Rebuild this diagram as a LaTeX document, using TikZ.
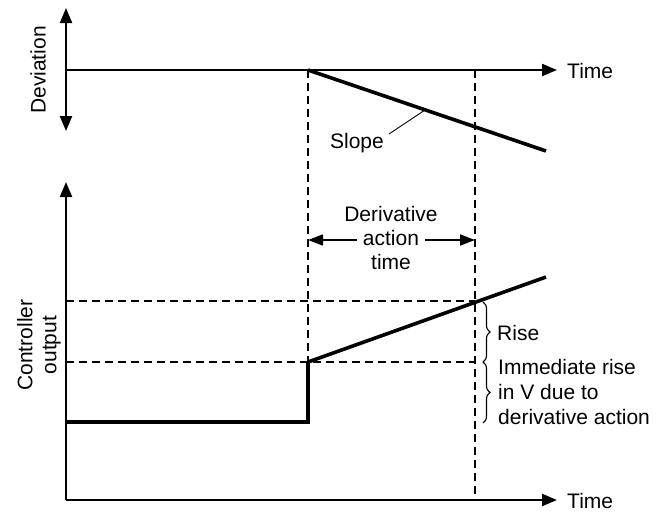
\documentclass[tikz,border=0pt]{standalone}
\usepackage{fontspec}
\setmainfont{Liberation Sans}
\usetikzlibrary{arrows.meta,decorations.pathreplacing}
\begin{document}
\begin{tikzpicture}[x=1pt,y=-1pt,
  axis/.style={line width=2.2pt,-{Triangle[length=15pt,width=12pt]}},
  biaxis/.style={line width=2.2pt,{Triangle[length=15pt,width=12pt]}-{Triangle[length=15pt,width=12pt]}},
  curve/.style={line width=3.6pt},
  guide/.style={line width=1.3pt,dash pattern=on 8pt off 5pt},
  lbl/.style={font=\fontsize{21}{24}\selectfont,inner sep=1pt},
  brace/.style={line width=1.1pt,decorate,decoration={brace,amplitude=7pt}},
  dimarrow/.style={line width=1.7pt,-{Triangle[length=15pt,width=11pt]}}]
\useasboundingbox (0,0) rectangle (657,515);
% coordinates
\coordinate (dorg) at (66,70);
\coordinate (dtop) at (66,8);
\coordinate (dbot) at (66,131);
\coordinate (dend) at (557,70);
\coordinate (t0) at (308,70);
\coordinate (s1) at (546,151);
\coordinate (corg) at (66,500);
\coordinate (ctop) at (66,182);
\coordinate (cend) at (557,500);
\coordinate (lowA) at (66,422);
\coordinate (lowB) at (308,422);
\coordinate (stepT) at (308,362);
\coordinate (rampE) at (546,277);
\coordinate (hA) at (66,301);
\coordinate (hB) at (475,301);
\coordinate (iA) at (66,362);
\coordinate (iB) at (475,362);
\coordinate (t1top) at (475,70);
\coordinate (t1bot) at (475,500);
% top plot
\draw[biaxis] (dbot) -- (dtop);
\draw[axis] (dorg) -- (dend);
\node[lbl,anchor=west] (time1) at (566,71) {Time};
\node[lbl,rotate=90] (dev) at (38,70) {Deviation};
\draw[curve] (t0) -- (s1);
\node[lbl] (slope) at (357,143) {Slope};
\coordinate (sl1) at (389,134);
\coordinate (sl2) at (425,110);
\draw[line width=0.9pt] (sl1) -- (sl2);
% dashed guides
\draw[guide] (t0) -- (stepT);
\draw[guide] (t1top) -- (t1bot);
\draw[guide] (hA) -- (hB);
\draw[guide] (iA) -- (iB);
% bottom plot
\draw[axis] (corg) -- (ctop);
\draw[axis] (corg) -- (cend);
\node[lbl,anchor=west] (time2) at (566,501) {Time};
\node[lbl,rotate=90,align=center] (cout) at (39,345) {Controller\\output};
\draw[curve,line join=miter] (lowA) -- (lowB) -- (stepT);
\draw[curve] (stepT) -- (rampE);
% derivative action time
\node[lbl,align=center,font=\fontsize{21}{24}\selectfont] (dat) at (391,238) {Derivative\\action\\time};
\coordinate (datL) at (308,240);
\coordinate (datR) at (475,240);
\draw[dimarrow] (357,240) -- (datL);
\draw[dimarrow] (425,240) -- (datR);
% braces
\coordinate (b1) at (483,302);
\coordinate (b2) at (483,362);
\coordinate (b3) at (483,423);
\draw[brace] (b1) -- (b2);
\draw[brace] (b2) -- (b3);
\node[lbl,anchor=west] (rise) at (496,333) {Rise};
\node[lbl,anchor=west,align=left,font=\fontsize{21}{25}\selectfont] (imm) at (497,392) {Immediate rise\\in V due to\\derivative action};
\end{tikzpicture}
\end{document}
